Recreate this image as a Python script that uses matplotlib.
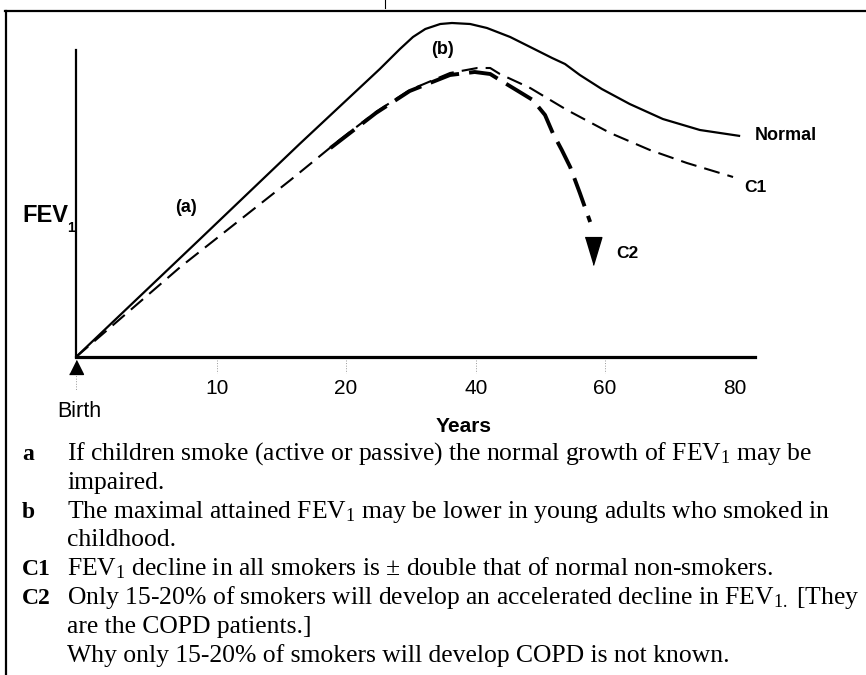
import numpy as np
import matplotlib
matplotlib.use("Agg")
import matplotlib.pyplot as plt
from matplotlib.lines import Line2D
from matplotlib import font_manager

# ---------------- data ----------------
# the age axis is not linear: knots (years) and their relative axis positions
age_knots = [0, 10, 20, 40, 60, 80, 100]
age_pos = [0, 141, 270, 400, 529, 659, 788]
tick_years = [10, 20, 40, 60, 80]
tick_labels = ["10", "20", "40", "60", "80"]

normal_age = [0, 8.8, 16.4, 25.2, 28.3, 30.3, 32.2, 34.5, 36.3, 39.1, 41.7, 45.3,
              48.4, 51.8, 53.8, 56.1, 59.5, 63.8, 68.9, 74.6, 80.8]
normal_fev = [0, 118, 213, 288, 308, 320, 328, 333, 334, 333, 329, 320,
              310, 299, 293, 282, 268, 253, 238, 227, 221]

c1_age = [0, 7.4, 15.7, 19.5, 24.6, 29.8, 36.0, 40.2, 42.2, 43.7, 48.4, 54.1,
          60.8, 66.9, 72.6, 79.7]
c1_fev = [0, 90, 177, 217, 245, 267, 284, 289, 289, 283, 269, 247,
          224, 207, 194, 180]

c2_age = [18.8, 24.6, 29.8, 36.0, 39.8, 42.2, 43.7, 46.0, 48.8, 50.7, 51.9,
          53.3, 54.6, 56.1, 57.7]
c2_fev = [209, 244, 266, 282, 285, 283, 277, 268, 257, 242, 224,
          207, 190, 164, 135]
c2_arrow_age = 58.2
c2_arrow_fev = 106

fev_axis_top = 307

caption = [
    ("a", r"If children smoke (active or passive) the normal growth of FEV$_1$ may be"),
    ("", "impaired."),
    ("b", r"The maximal attained FEV$_1$ may be lower in young adults who smoked in"),
    ("", "childhood."),
    ("C1", r"FEV$_1$ decline in all smokers is ± double that of normal non-smokers."),
    ("C2", r"Only 15-20% of smokers will develop an accelerated decline in FEV$_{1.}$ [They"),
    ("", "are the COPD patients.]"),
    ("", "Why only 15-20% of smokers will develop COPD is not known."),
]

# ---------------- fonts ----------------
SANS = ["Liberation Sans Narrow", "Liberation Sans", "DejaVu Sans"]
SERIF = ["Liberation Serif", "DejaVu Serif"]
plt.rcParams["mathtext.fontset"] = "custom"
plt.rcParams["mathtext.rm"] = "Liberation Serif"
plt.rcParams["mathtext.it"] = "Liberation Serif:italic"
plt.rcParams["mathtext.bf"] = "Liberation Serif:bold"

W, H = 866, 675
fig = plt.figure(figsize=(W / 100, H / 100), dpi=100)


def fx(x):
    return x / W


def fy(y):
    return 1 - y / H


# frame lines of the scanned page
fig.add_artist(Line2D([fx(5), fx(866)], [fy(11), fy(11)], color="k", lw=1.6))
fig.add_artist(Line2D([fx(6), fx(6)], [fy(11), fy(675)], color="k", lw=1.6))
fig.add_artist(Line2D([fx(385), fx(385)], [fy(0), fy(8)], color="k", lw=0.8))

# axes: origin at (76, 357) px, x-axis to 755 px, top at 12 px
ax = fig.add_axes([fx(76), fy(357), (755 - 76) / W, (357 - 12) / H])
fwd = lambda a: np.interp(a, age_knots, age_pos)
inv = lambda p: np.interp(p, age_pos, age_knots)
ax.set_xscale("function", functions=(fwd, inv))
ax.set_xlim(0, 83.1)
ax.set_ylim(0, 345)
ax.patch.set_visible(False)
for s in ("top", "right"):
    ax.spines[s].set_visible(False)
ax.spines["left"].set_bounds(0, fev_axis_top)
ax.spines["left"].set_linewidth(1.6)
ax.spines["bottom"].set_linewidth(2.3)
ax.set_yticks([])
ax.set_xticks(tick_years, tick_labels)
ax.xaxis.set_minor_locator(matplotlib.ticker.NullLocator())
ax.tick_params(axis="x", length=0, pad=16)
for lab in ax.get_xticklabels():
    lab.set_fontfamily(SANS)
    lab.set_fontsize(15)

# faint tick marks below the axis
for t in tick_years[:-1]:
    ax.plot([t, t], [-3, -16], color="0.6", lw=0.7, ls=":", clip_on=False)
ax.plot([0, 0], [-16, -33], color="0.6", lw=0.7, ls=":", clip_on=False)
ax.plot([0], [-9.5], marker=[(-0.5, -0.5), (0.5, -0.5), (0, 0.5)], ms=10,
        color="k", clip_on=False)

# curves
ax.plot(normal_age, normal_fev, color="k", lw=1.6, clip_on=False,
        solid_capstyle="butt")
ax.plot(c1_age, c1_fev, color="k", lw=1.5, ls=(0, (7.7, 3.9)), clip_on=False)
ax.plot(c2_age, c2_fev, color="k", lw=2.8, ls=(0, (7.7, 2.6)), clip_on=False)
ax.plot([c2_arrow_age], [c2_arrow_fev],
        marker=[(-0.3, 0.5), (0.3, 0.5), (0, -0.5)], ms=20, color="k",
        clip_on=False)

# curve labels
bold = dict(fontfamily=SANS, fontweight="bold", color="k")
ax.text(7.8, 150, "(a)", ha="center", va="center", fontsize=13, **bold)
ax.text(34.8, 307, "(b)", ha="center", va="center", fontsize=13, **bold)
ax.text(83.1, 222, "Normal", ha="left", va="center", fontsize=13, **bold)
ax.text(81.5, 169, "C1", ha="left", va="center", fontsize=12.5, **bold)
ax.text(61.8, 103, "C2", ha="left", va="center", fontsize=12.5, **bold)

# axis texts
fig.text(fx(22), fy(222), "FEV", ha="left", va="baseline", fontsize=17, **bold)
fig.text(fx(67), fy(232), "1", ha="left", va="baseline", fontsize=10, **bold)
fig.text(fx(79), fy(417), "Birth", ha="center", va="baseline",
         fontfamily=SANS, fontsize=15.5)
ax.set_xlabel("Years", fontfamily=SANS, fontweight="bold", fontsize=15)
ax.xaxis.set_label_coords((464 - 76) / (755 - 76), (357 - 417) / (357 - 12))

# caption
base0, step = 460, 28.8
texts = []
for i, (lab, txt) in enumerate(caption):
    yb = fy(base0 + i * step)
    if lab:
        fig.text(fx(22), yb, lab, ha="left", va="baseline", fontfamily=SERIF,
                 fontweight="bold", fontsize=17)
    texts.append(fig.text(fx(67), yb, txt, ha="left", va="baseline",
                          fontfamily=SERIF, fontsize=17))

fig.canvas.draw()
r = fig.canvas.get_renderer()
wid = texts[5].get_window_extent(r).width
scale = (858 - 67) / wid
for t in texts:
    t.set_fontsize(17 * scale)

fig.savefig("out.png", dpi=100)
